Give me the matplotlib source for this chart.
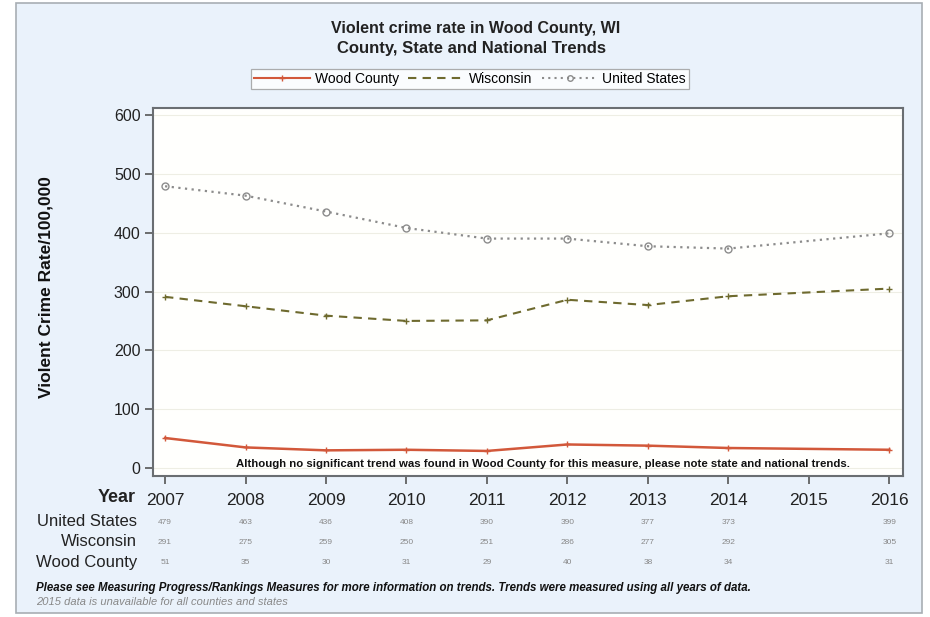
import matplotlib
matplotlib.use("Agg")
import matplotlib.pyplot as plt
from matplotlib.patches import Rectangle
from matplotlib.lines import Line2D

plt.rcParams['font.family'] = ['Liberation Sans', 'DejaVu Sans']

years = [2007, 2008, 2009, 2010, 2011, 2012, 2013, 2014, 2015, 2016]
united_states = [479, 463, 436, 408, 390, 390, 377, 373, None, 399]
wisconsin = [291, 275, 259, 250, 251, 286, 277, 292, None, 305]
wood_county = [51, 35, 30, 31, 29, 40, 38, 34, None, 31]

title = "Violent crime rate in Wood County, WI"
subtitle = "County, State and National Trends"
ylabel = "Violent Crime Rate/100,000"
note_inside = ("Although no significant trend was found in Wood County for this measure, "
               "please note state and national trends.")
foot1 = ("Please see Measuring Progress/Rankings Measures for more information on trends. "
         "Trends were measured using all years of data.")
foot2 = "2015 data is unavailable for all counties and states"

W, H = 930, 617
fig = plt.figure(figsize=(W / 100, H / 100), dpi=100)
fig.patch.set_facecolor('white')

# outer panel
panel = Rectangle((16 / W, 1 - 613 / H), (922 - 16) / W, (613 - 3) / H,
                  transform=fig.transFigure, facecolor='#EAF2FB',
                  edgecolor='#A8AEB4', linewidth=1.2, zorder=-10)
fig.patches.append(panel)

ax = fig.add_axes([153 / W, 1 - 476 / H, (903 - 153) / W, (476 - 108) / H])
ax.set_facecolor('#FFFFFD')

def valid(vals):
    xs = [y for y, v in zip(years, vals) if v is not None]
    vs = [v for v in vals if v is not None]
    return xs, vs

c_us = '#8C8C8C'
c_wi = '#6E6A2E'
c_wc = '#D2583A'

x, v = valid(united_states)
ax.plot(x, v, linestyle=(0, (1, 2)), color=c_us, linewidth=1.6, marker='o',
        markersize=5, markerfacecolor='none', markeredgecolor=c_us, zorder=3)
x, v = valid(wisconsin)
ax.plot(x, v, linestyle=(0, (4, 3)), color=c_wi, linewidth=1.5, marker='+',
        markersize=4, markeredgecolor=c_wi, zorder=3)
x, v = valid(wood_county)
ax.plot(x, v, linestyle='-', color=c_wc, linewidth=1.8, marker='+',
        markersize=4, markeredgecolor=c_wc, zorder=3)

ax.set_xlim(2006.85, 2016.17)
ax.set_ylim(-13.6, 612)
ax.set_yticks([0, 100, 200, 300, 400, 500, 600])
ax.set_xticks(years)
ax.set_xticklabels([str(y) for y in years], fontsize=12.5, color='#222222')
ax.tick_params(axis='x', length=6, width=1.2, color='#555555', pad=6)
ax.tick_params(axis='y', length=6, width=1.2, color='#555555', labelsize=11.5,
               labelcolor='#222222', pad=3)
ax.grid(axis='y', color='#EEEEE4', linewidth=0.8)
ax.set_axisbelow(True)
for s in ax.spines.values():
    s.set_color('#6A6E72')
    s.set_linewidth(1.5)

ax.set_ylabel(ylabel, fontsize=12.5, fontweight='bold', color='#111111')
ax.yaxis.set_label_coords(-0.133, 0.514)

ax.text((2007 + 2016) / 2 + 0.2, 7, note_inside, fontsize=8.2, fontweight='bold',
        ha='center', va='center', color='#111111')

# titles
fig.text(476 / W, 1 - 28 / H, title, fontsize=11.5, fontweight='bold',
         ha='center', va='center', color='#222222')
fig.text(471 / W, 1 - 48 / H, subtitle, fontsize=12, fontweight='bold',
         ha='center', va='center', color='#222222')

# legend
handles = [
    Line2D([], [], color=c_wc, linestyle='-', linewidth=1.5, marker='+', markersize=4),
    Line2D([], [], color=c_wi, linestyle=(0, (4, 3)), linewidth=1.5),
    Line2D([], [], color=c_us, linestyle=(0, (1, 2)), linewidth=1.5, marker='o',
           markersize=4, markerfacecolor='none'),
]
leg = fig.legend(handles, ['Wood County', 'Wisconsin', 'United States'],
                 loc='center', bbox_to_anchor=(470 / W, 1 - 79 / H), ncol=3,
                 fontsize=10, frameon=True, fancybox=False, handlelength=4.0,
                 columnspacing=0.7, handletextpad=0.35, borderpad=0.25)
leg.get_frame().set_edgecolor('#9A9A9A')
leg.get_frame().set_linewidth(0.9)
leg.get_frame().set_facecolor('white')

# Year label
fig.text(136 / W, 1 - 498 / H, 'Year', fontsize=13, fontweight='bold',
         ha='right', va='center', color='#222222')

# table
rows = [('United States', united_states, 522),
        ('Wisconsin', wisconsin, 542),
        ('Wood County', wood_county, 562)]
for label, vals, ypix in rows:
    fig.text(137 / W, 1 - ypix / H, label, fontsize=12, ha='right', va='center',
             color='#222222')
    for yr, val in zip(years, vals):
        if val is None:
            continue
        xd = ax.transData.transform((yr, 0))[0]
        xf = fig.transFigure.inverted().transform((xd, 0))[0]
        fig.text(xf, 1 - ypix / H, str(val), fontsize=6, ha='center', va='center',
                 color='#888888')

fig.text(36 / W, 1 - 588 / H, foot1, fontsize=8.3, fontweight='bold', style='italic',
         ha='left', va='center', color='#111111')
fig.text(36 / W, 1 - 602 / H, foot2, fontsize=8, style='italic',
         ha='left', va='center', color='#888888')

fig.savefig('out.png', dpi=100, facecolor=fig.get_facecolor())
